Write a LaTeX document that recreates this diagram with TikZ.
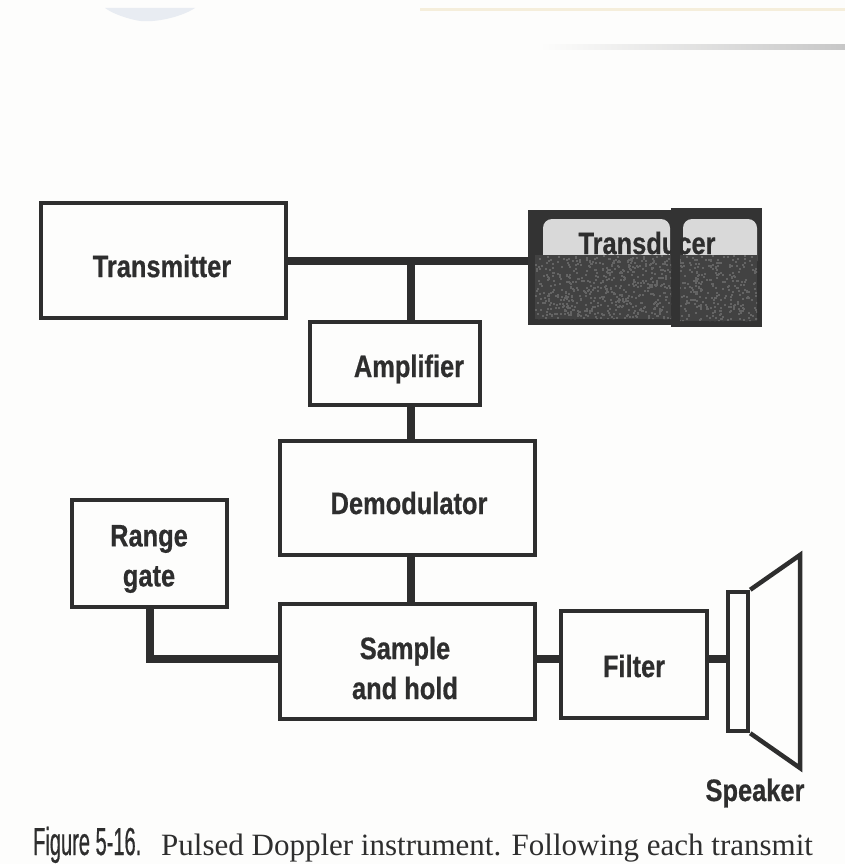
\documentclass[tikz,border=0pt]{standalone}
\usepackage{fontspec}
\setmainfont{Liberation Serif}
\newfontfamily\labelfont[FakeStretch=0.82,FakeBold=0.6]{Liberation Sans Bold}
\newfontfamily\figfont[FakeStretch=0.514,FakeBold=0.5]{Liberation Sans}
\definecolor{ink}{HTML}{2E2E2E}
\definecolor{paper}{HTML}{FDFDFC}
\definecolor{pane}{HTML}{D9D9D9}
\definecolor{duct}{HTML}{333333}
\definecolor{ductin}{HTML}{424242}
\definecolor{speck}{HTML}{646464}
\definecolor{smudge}{HTML}{E8ECF2}
\definecolor{tan}{HTML}{F5EEDB}
\tikzset{
  x=1pt,y=-1pt,
  blockbox/.style={draw=ink,line width=4.5pt,fill=none,inner sep=0pt},
  wire/.style={draw=ink,line width=7.5pt},
  lbl/.style={inner sep=0pt,text=ink,align=center,font=\labelfont\fontsize{31}{40}\selectfont},
}
\begin{document}
\begin{tikzpicture}
\useasboundingbox (0,0) rectangle (845,864);
\fill[paper] (0,0) rectangle (845,864);
% scan edge at the top
\fill[smudge] (105,8) -- (195,8) .. controls (180,18) and (150,24) .. (135,20) .. controls (122,17) and (112,13) .. (105,8) -- cycle;
\fill[tan] (420,8) rectangle (845,11);
\shade[left color=paper,right color=black!22] (540,45) rectangle (845,50);
% blocks
\node[blockbox,minimum width=245pt,minimum height=115pt] (tx) at (163.5,260.5) {};
\node[blockbox,minimum width=170pt,minimum height=83pt] (amp) at (395,363.5) {};
\node[blockbox,minimum width=255pt,minimum height=114pt] (dem) at (407.5,498) {};
\node[blockbox,minimum width=255pt,minimum height=115pt] (sh) at (407.5,661.5) {};
\node[blockbox,minimum width=155pt,minimum height=107pt] (rg) at (149.5,553.5) {};
\node[blockbox,minimum width=146pt,minimum height=107pt] (fl) at (634,664.5) {};
\node[lbl] (txl) at (162,266) {Transmitter};
\node[lbl] (ampl) at (409,369) {Amplifier};
\node[lbl] (deml) at (409,503) {Demodulator};
\node[lbl] (shl) at (405,668) {Sample\\and hold};
\node[lbl] (rgl) at (149,559) {Range\\gate};
\node[lbl] (fll) at (634,666) {Filter};
% transducer
\node[fill=duct,minimum width=234pt,minimum height=115pt,inner sep=0pt] (td) at (645,267.5) {};
\fill[duct] (671,208) rectangle (762,327);
\fill[pane,rounded corners=9pt] (543,219) -- (670,219) -- (670,270) -- (543,270) -- cycle;
\fill[pane,rounded corners=9pt] (683,219) -- (757,219) -- (757,270) -- (683,270) -- cycle;
\fill[ductin] (535,255) rectangle (671,319);
\fill[ductin] (680,255) rectangle (757,321);
\pgfmathsetseed{7}
\begin{scope}
\clip (535,255) rectangle (671,319) (680,255) rectangle (757,321);
\foreach \i in {1,...,900}{
  \pgfmathsetmacro{\px}{535+222*rnd}
  \pgfmathsetmacro{\py}{255+66*rnd}
  \fill[speck] (\px,\py) rectangle ++(2,2);
}
\end{scope}
\node[lbl] (tdl) at (647,243) {Transducer};
\fill[duct] (671,208) rectangle (680,262);
% speaker
\node[draw=ink,line width=4.5pt,fill=none,minimum width=20pt,minimum height=139pt,inner sep=0pt] (spk) at (738,661.5) {};
\coordinate (spka) at (spk.north east);
\coordinate (spkb) at (spk.south east);
\coordinate (cone1) at (800,555);
\coordinate (cone2) at (800,768);
\draw[draw=ink,line width=4.5pt,line join=miter] (spka) -- (cone1) -- (cone2) -- (spkb);
\node[lbl] (spl) at (755,793) {Speaker};
% connectors
\coordinate (j) at (411,261);
\coordinate (rgc) at (150,659);
\draw[wire] (tx.east |- j) -- (j) -- (td.west |- j);
\draw[wire] (j) -- (j |- amp.north);
\draw[wire] (j |- amp.south) -- (j |- dem.north);
\draw[wire] (j |- dem.south) -- (j |- sh.north);
\draw[wire] (rgc |- rg.south) -- (rgc) -- (rgc -| sh.west);
\draw[wire] (sh.east |- rgc) -- (rgc -| fl.west);
\draw[wire] (fl.east |- rgc) -- (rgc -| spk.west);
% caption
\node[anchor=base west,inner sep=0pt,text=ink] (cap1) at (33,855) {\figfont\fontsize{39}{44}\selectfont Figure 5-16.};
\node[anchor=base west,inner sep=0pt,text=ink] (cap2) at (161,855) {\fontsize{31}{36}\selectfont Pulsed Doppler instrument. Following each transmit};
\end{tikzpicture}
\end{document}
